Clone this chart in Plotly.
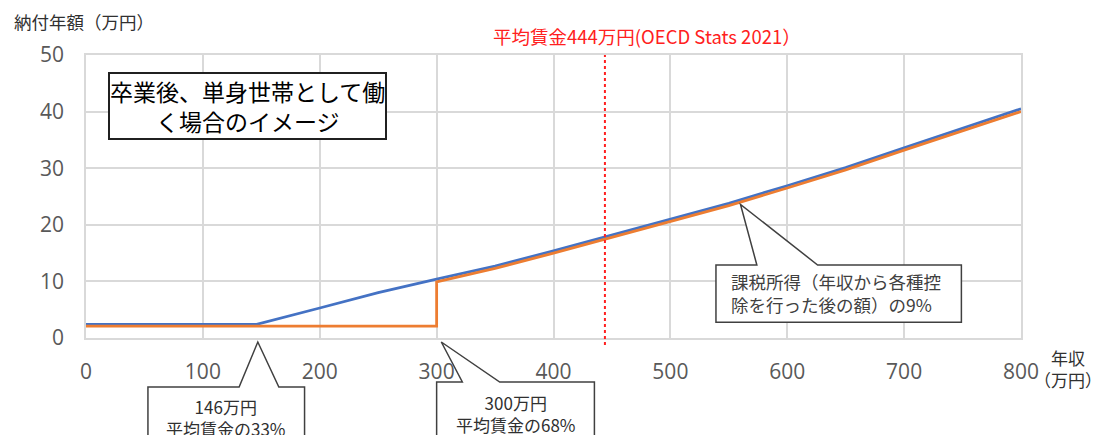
import plotly.graph_objects as go

# 年収（万円）
income = [0, 146, 200, 250, 300, 350, 400, 450, 500, 550, 600, 650, 700, 750, 800]
# 納付年額（万円）
payment_blue = [2.4, 2.4, 5.3, 8.0, 10.4, 12.7, 15.4, 18.2, 21.0, 23.8, 26.9, 30.1, 33.6, 37.0, 40.5]
income_orange = [0, 300, 300, 350, 400, 450, 500, 550, 600, 650, 700, 750, 800]
payment_orange = [2.1, 2.1, 9.9, 12.3, 15.0, 17.8, 20.6, 23.4, 26.5, 29.7, 33.2, 36.6, 40.0]

avg_wage = 444
x_ticks = [0, 100, 200, 300, 400, 500, 600, 700, 800]
y_ticks = [0, 10, 20, 30, 40, 50]

JP = "Noto Sans CJK JP"
GRID = "#d9d9d9"

fig = go.Figure()
fig.add_trace(go.Scatter(x=income, y=payment_blue, mode="lines",
                         line=dict(color="#4472C4", width=2.8), showlegend=False))
fig.add_trace(go.Scatter(x=income_orange, y=payment_orange, mode="lines",
                         line=dict(color="#ED7D31", width=2.8), showlegend=False))

# 平均賃金の縦線
fig.add_shape(type="line", x0=avg_wage, x1=avg_wage, xref="x", yref="paper",
              y0=-0.025, y1=1.0, line=dict(color="#ff2020", width=2, dash="dot"))

def py(p):
    # pixel row -> paper y
    return (338 - p) / 283

def px(p):
    # pixel column -> paper x
    return (p - 86) / 935

# 吹き出し（146万円）
top, bot, tip = py(387), py(450), py(342)
fig.add_shape(type="path", xref="x", yref="paper",
              path=f"M 53,{top} L 131,{top} L 147,{tip} L 165,{top} L 187,{top} "
                   f"L 187,{bot} L 53,{bot} Z",
              line=dict(color="#404040", width=1.5), fillcolor="white", layer="above")
# 吹き出し（300万円）
top2 = py(382)
fig.add_shape(type="path", xref="x", yref="paper",
              path=f"M 300,{top2} L 322,{top2} L 304,{tip} L 354,{top2} L 435,{top2} "
                   f"L 435,{bot} L 300,{bot} Z",
              line=dict(color="#404040", width=1.5), fillcolor="white", layer="above")
# 吹き出し（課税所得）
fig.add_shape(type="path", xref="x", yref="y",
              path="M 539,12.9 L 574,12.9 L 560,23.6 L 626,12.9 L 749,12.9 "
                   "L 749,2.8 L 539,2.8 Z",
              line=dict(color="#404040", width=1.5), fillcolor="white", layer="above")

C = dict(xanchor="center", yanchor="middle", showarrow=False)
annotations = [
    dict(text="卒業後、単身世帯として働<br>く場合のイメージ", x=px(247), y=py(106),
         xref="paper", yref="paper", **C,
         font=dict(family=JP, size=23, color="black"),
         bordercolor="#202020", borderwidth=2, borderpad=0, bgcolor="white"),
    dict(text="平均賃金444万円(OECD Stats 2021）", x=px(647), y=py(36),
         xref="paper", yref="paper", **C,
         font=dict(family=JP, size=18.5, color="#ff2020")),
    dict(text="146万円<br>平均賃金の33%", x=120, y=py(417), xref="x", yref="paper",
         **C, font=dict(family=JP, size=17, color="#303030")),
    dict(text="300万円<br>平均賃金の68%", x=367.5, y=py(413), xref="x", yref="paper",
         **C, font=dict(family=JP, size=17, color="#303030")),
    dict(text="課税所得（年収から各種控<br>除を行った後の額）の9%", x=550, y=7.9,
         xref="x", yref="y", xanchor="left", yanchor="middle", align="left",
         showarrow=False, font=dict(family=JP, size=17.5, color="#404040")),
    dict(text="納付年額（万円）", x=px(12), y=py(21), xref="paper", yref="paper",
         xanchor="left", yanchor="middle", showarrow=False,
         font=dict(family=JP, size=17.5, color="#303030")),
    dict(text="年収<br>（万円）", x=px(1068), y=py(369), xref="paper", yref="paper",
         **C, font=dict(family=JP, size=17, color="#303030")),
]

fig.update_layout(
    width=1095, height=435,
    margin=dict(l=86, r=74, t=55, b=97),
    paper_bgcolor="white", plot_bgcolor="white",
    annotations=annotations,
    showlegend=False,
)
fig.update_xaxes(range=[0, 800], tickvals=x_ticks, showgrid=True, gridcolor=GRID,
                 gridwidth=1.5, zeroline=False, showline=True, linecolor=GRID,
                 mirror=True, linewidth=1.5, ticklabelstandoff=14,
                 tickfont=dict(family="Open Sans", size=21, color="#595959"))
fig.update_yaxes(range=[0, 50], tickvals=y_ticks, showgrid=True, gridcolor=GRID,
                 gridwidth=1.5, zeroline=False, showline=True, linecolor=GRID,
                 mirror=True, linewidth=1.5, ticklabelstandoff=16,
                 tickfont=dict(family="Open Sans", size=21, color="#595959"))

fig.write_html("out.html")
